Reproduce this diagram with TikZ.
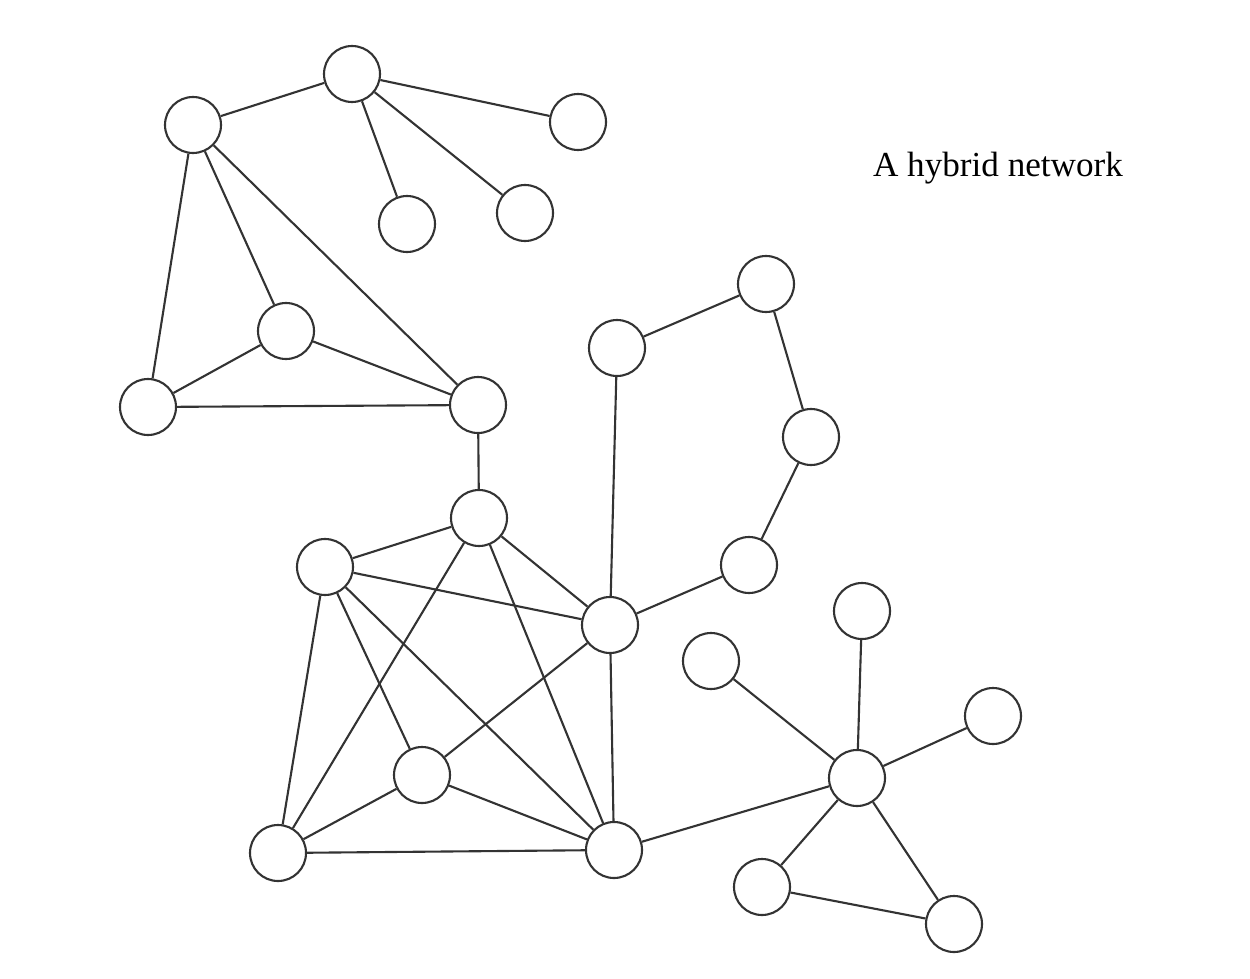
\documentclass[tikz,border=0pt]{standalone}
\usepackage{fontspec}
\setmainfont{Liberation Serif}
\begin{document}
\begin{tikzpicture}[vertex/.style={circle, draw, minimum size=.56cm, inner sep=0pt}, line width=.6pt, draw=black!80]
\useasboundingbox (0,0) rectangle (12.5,-9.79);

% top left cluster
\node[vertex] (a1) at (1.93,-1.25){};
\node[vertex] (a2) at (3.52,-0.74){};
\node[vertex] (a3) at (5.78,-1.22){};
\node[vertex] (a4) at (4.07,-2.24){};
\node[vertex] (a5) at (5.25,-2.13){};
\node[vertex] (a6) at (2.86,-3.31){};
\node[vertex] (a7) at (1.48,-4.07){};
\node[vertex] (a8) at (4.78,-4.05){};

% mesh
\node[vertex] (b1) at (4.79,-5.18){};
\node[vertex] (b2) at (3.25,-5.67){};
\node[vertex] (b3) at (6.10,-6.25){};
\node[vertex] (b4) at (4.22,-7.75){};
\node[vertex] (b5) at (2.78,-8.53){};
\node[vertex] (b6) at (6.14,-8.50){};

% ring
\node[vertex] (c1) at (6.17,-3.48){};
\node[vertex] (c2) at (7.66,-2.84){};
\node[vertex] (c3) at (8.11,-4.37){};
\node[vertex] (c4) at (7.49,-5.65){};

% star
\node[vertex] (d0) at (8.57,-7.78){};
\node[vertex] (d1) at (7.11,-6.61){};
\node[vertex] (d2) at (8.62,-6.11){};
\node[vertex] (d3) at (9.93,-7.16){};
\node[vertex] (d4) at (7.62,-8.87){};
\node[vertex] (d5) at (9.54,-9.24){};

\node (title) at (9.98,-1.68){A hybrid network};

\foreach \from/\to in {a1/a2, a2/a3, a2/a4, a2/a5, a1/a7, a1/a6, a1/a8, a6/a7, a6/a8, a7/a8,
    a8/b1,
    b1/b2, b1/b3, b1/b5, b1/b6, b2/b3, b2/b4, b2/b5, b2/b6, b3/b4, b3/b6, b4/b5, b4/b6, b5/b6,
    b3/c1, c1/c2, c2/c3, c3/c4, c4/b3,
    b6/d0, d0/d1, d0/d2, d0/d3, d0/d4, d0/d5, d4/d5}
{
    \draw (\from)--(\to);
}
\end{tikzpicture}
\end{document}
